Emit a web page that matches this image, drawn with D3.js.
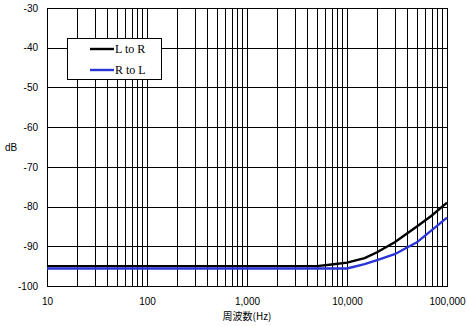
<!DOCTYPE html>
<html>
<head>
<meta charset="utf-8">
<script src="https://cdn.jsdelivr.net/npm/d3@7"></script>
<style>
  body { margin: 0; background: #fff; }
  svg { display: block; }
  text { font-family: "Liberation Sans", Arial, sans-serif; font-size: 10px; fill: #000; }
  .legend text { font-family: "Liberation Serif", "Times New Roman", serif; font-size: 12px; }
</style>
</head>
<body>
<svg id="chart" width="467" height="326"></svg>
<script>
// Crosstalk measurement, frequency in Hz vs level in dB
const freqs   = [10, 20, 50, 100, 200, 500, 1000, 2000, 5000, 7000, 10000, 15000, 20000, 30000, 50000, 70000, 100000];
const lToR    = [-95, -95, -95, -95, -95, -95, -95, -95, -95, -94.6, -94.1, -93, -91.5, -89, -85, -82.3, -79];
const rToL    = [-95.6, -95.6, -95.6, -95.6, -95.6, -95.6, -95.6, -95.6, -95.6, -95.6, -95.6, -94.5, -93.5, -92, -89, -86, -82.8];
const seriesNames = ["L to R", "R to L"];
const seriesColors = ["#000000", "#2a35d6"];
const xTicks = [10, 100, 1000, 10000, 100000];
const yTicks = [-100, -90, -80, -70, -60, -50, -40, -30];

const svg = d3.select("#chart");
const plot = { left: 47, right: 447, top: 8, bottom: 286 };

const x = d3.scaleLog().domain([10, 100000]).range([plot.left, plot.right]);
const y = d3.scaleLinear().domain([-100, -30]).range([plot.bottom, plot.top]);

// grid: every 1..9 multiple per decade, every 10 dB
const vGrid = [];
for (let d = 10; d < 100000; d *= 10) for (let m = 1; m < 10; m++) vGrid.push(d * m);
vGrid.push(100000);

const g = svg.append("g").attr("shape-rendering", "crispEdges");
g.selectAll("line.v").data(vGrid).join("line")
  .attr("class", "v")
  .attr("x1", d => Math.round(x(d)) + 0.5).attr("x2", d => Math.round(x(d)) + 0.5)
  .attr("y1", plot.top).attr("y2", plot.bottom + 1)
  .attr("stroke", "#000").attr("stroke-width", 1);
g.selectAll("line.h").data(yTicks).join("line")
  .attr("class", "h")
  .attr("x1", plot.left).attr("x2", plot.right + 1)
  .attr("y1", d => Math.round(y(d)) + 0.5).attr("y2", d => Math.round(y(d)) + 0.5)
  .attr("stroke", "#000").attr("stroke-width", 1);

// axes labels
const fmt = d3.format(",");
const xAxis = d3.axisBottom(x).tickValues(xTicks).tickFormat(fmt).tickSize(0).tickPadding(12);
const xg = svg.append("g").attr("transform", `translate(0,${plot.bottom})`).call(xAxis);
xg.select(".domain").remove();
xg.selectAll("text").style("font-size", "10px").style("font-family", '"Liberation Sans", Arial, sans-serif');

const yAxis = d3.axisLeft(y).tickValues(yTicks).tickFormat(d => d).tickSize(0).tickPadding(9);
const yg = svg.append("g").attr("transform", `translate(${plot.left},0)`).call(yAxis);
yg.select(".domain").remove();
yg.selectAll("text").style("font-size", "10px").style("font-family", '"Liberation Sans", Arial, sans-serif');

svg.append("text").attr("x", 5).attr("y", 151).text("dB");
svg.append("text").attr("x", 247).attr("y", 320).attr("text-anchor", "middle")
  .style("font-family", '"Noto Sans CJK JP", sans-serif').style("font-size", "10px")
  .text("周波数(Hz)");

// data lines
const line = d3.line().x((d, i) => x(freqs[i])).y(d => y(d)).curve(d3.curveLinear);
[lToR, rToL].forEach((vals, i) => {
  svg.append("path").datum(vals)
    .attr("d", line)
    .attr("fill", "none")
    .attr("stroke", seriesColors[i])
    .attr("stroke-width", 2.4);
});

// legend
const lg = svg.append("g").attr("class", "legend");
lg.append("rect").attr("x", 67.5).attr("y", 38.5).attr("width", 94).attr("height", 41)
  .attr("fill", "#fff").attr("stroke", "#000").attr("stroke-width", 1).attr("shape-rendering", "crispEdges");
seriesNames.forEach((name, i) => {
  const ly = 49 + i * 21;
  lg.append("line").attr("x1", 90).attr("x2", 114).attr("y1", ly).attr("y2", ly)
    .attr("stroke", seriesColors[i]).attr("stroke-width", 2.4);
  lg.append("text").attr("x", 115).attr("y", ly + 4).text(name);
});
</script>
</body>
</html>
